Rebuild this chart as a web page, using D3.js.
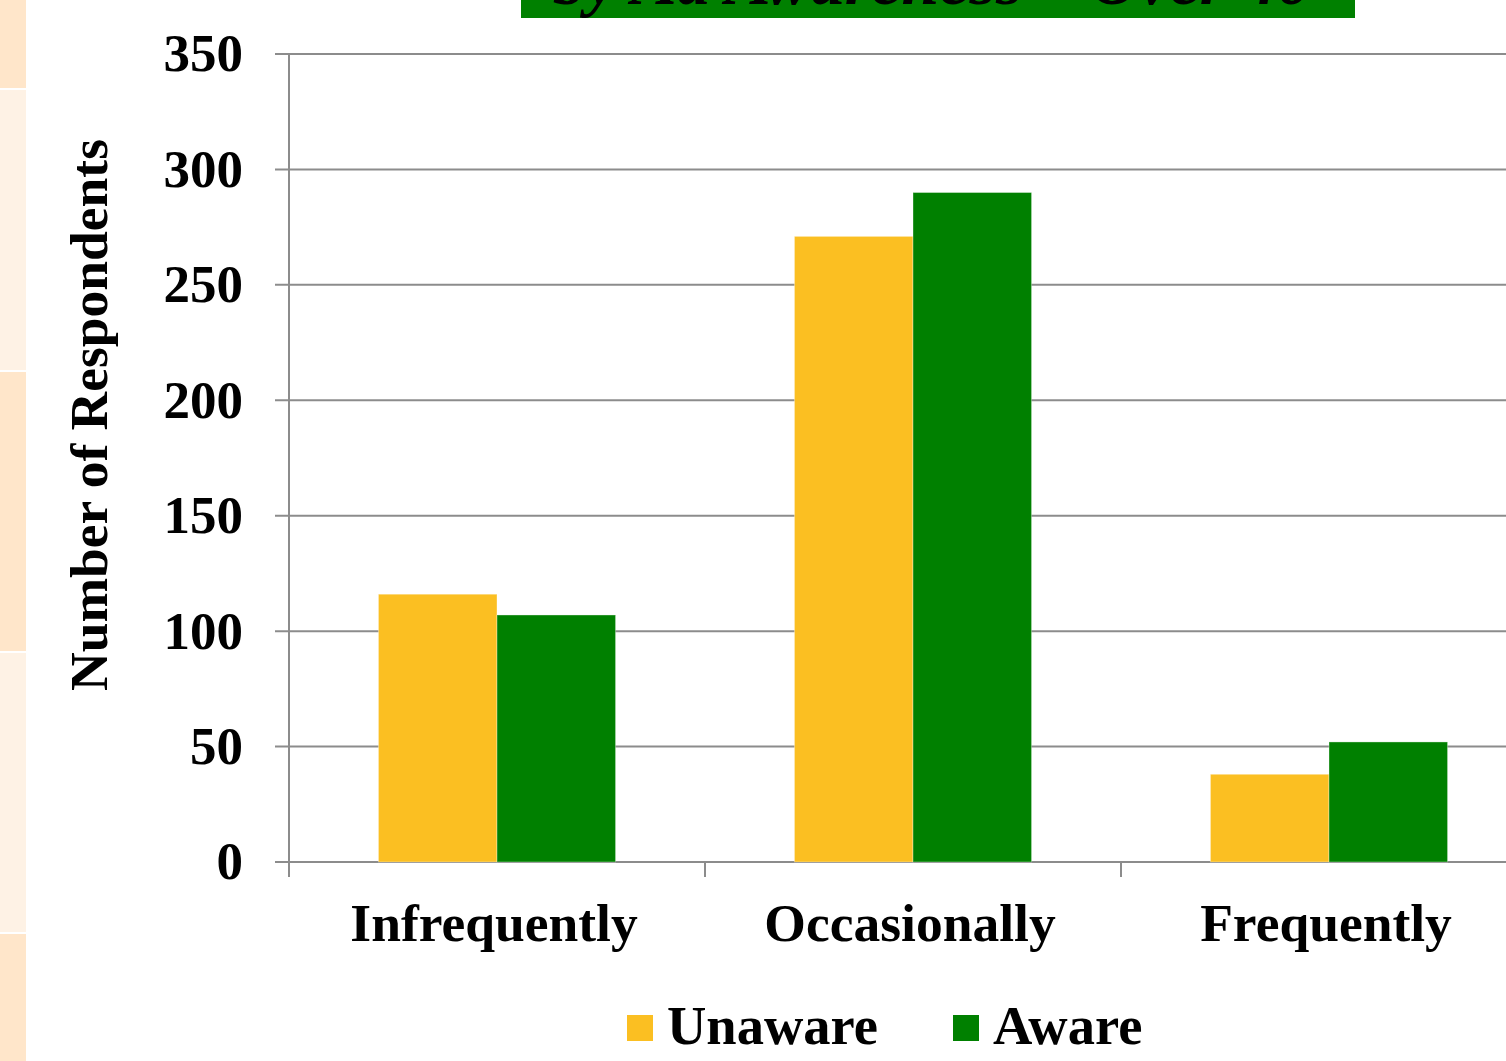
<!DOCTYPE html>
<html>
<head>
<meta charset="utf-8">
<script src="https://cdn.jsdelivr.net/npm/d3@7"></script>
<style>
  html, body { margin: 0; padding: 0; background: #ffffff; overflow: hidden; }
  svg { display: block; }
  text { font-family: "Liberation Serif", "Times New Roman", serif; font-weight: bold; fill: #000; }
</style>
</head>
<body>
<svg id="chart" width="1506" height="1061"></svg>
<script>
// Survey responses: how often respondents over 40 do it, split by ad awareness
const categories = ["Infrequently", "Occasionally", "Frequently"];
const seriesNames = ["Unaware", "Aware"];
const unawareValues = [116, 271, 38];
const awareValues = [107, 290, 52];
const yTicks = [0, 50, 100, 150, 200, 250, 300, 350];
const seriesColors = ["#FBBF22", "#008000"];
const stripBands = [
  { y0: 0, y1: 88, fill: "#FFE6CA" },
  { y0: 90, y1: 370, fill: "#FEF2E5" },
  { y0: 372, y1: 651, fill: "#FFE6CA" },
  { y0: 653, y1: 932, fill: "#FEF2E5" },
  { y0: 934, y1: 1061, fill: "#FFE6CA" }
];

const svg = d3.select("#chart");

// Decorative slide strip on the left edge
svg.append("g").selectAll("rect")
  .data(stripBands)
  .join("rect")
  .attr("x", 0)
  .attr("width", 26)
  .attr("y", d => d.y0)
  .attr("height", d => d.y1 - d.y0)
  .attr("fill", d => d.fill);

// Title banner, running off the top of the slide
const banner = svg.append("g");
banner.append("rect")
  .attr("x", 521).attr("y", -60)
  .attr("width", 834).attr("height", 78)
  .attr("fill", "#008000");
banner.append("text")
  .attr("x", 932).attr("y", 4)
  .attr("text-anchor", "middle")
  .style("font-style", "italic")
  .style("font-size", "68px")
  .text("by Ad Awareness \u2013 Over 40");

// Scales
const plotLeft = 289, plotRight = 1537, plotTop = 54, plotBottom = 862;
const x = d3.scaleBand().domain(categories).range([plotLeft, plotRight]).paddingInner(0).paddingOuter(0);
const inner = d3.scaleBand().domain(seriesNames)
  .range([x.bandwidth() * 0.215, x.bandwidth() * 0.785]).padding(0);
const y = d3.scaleLinear().domain([0, 350]).range([plotBottom, plotTop]);

const gridColor = "#8C8C8C";

// Horizontal gridlines with short outside ticks
svg.append("g").selectAll("line")
  .data(yTicks)
  .join("line")
  .attr("x1", plotLeft - 14)
  .attr("x2", 1506)
  .attr("y1", d => y(d))
  .attr("y2", d => y(d))
  .attr("stroke", gridColor)
  .attr("stroke-width", 2);

// Value axis labels
svg.append("g").selectAll("text")
  .data(yTicks)
  .join("text")
  .attr("x", 243)
  .attr("y", d => y(d))
  .attr("dy", "0.33em")
  .attr("text-anchor", "end")
  .style("font-size", "53px")
  .text(d => d);

// Bars
const rows = categories.map((c, i) => ({ category: c, values: [unawareValues[i], awareValues[i]] }));
const groups = svg.append("g").selectAll("g")
  .data(rows)
  .join("g")
  .attr("transform", d => `translate(${x(d.category)},0)`);
groups.selectAll("rect")
  .data(d => d.values.map((v, j) => ({ name: seriesNames[j], value: v, color: seriesColors[j] })))
  .join("rect")
  .attr("x", d => inner(d.name))
  .attr("width", inner.bandwidth())
  .attr("y", d => y(d.value))
  .attr("height", d => y(0) - y(d.value))
  .attr("fill", d => d.color)
  .attr("stroke", "rgba(255,255,255,0.35)")
  .attr("stroke-width", 1);

// Axis lines and category ticks
svg.append("line")
  .attr("x1", plotLeft).attr("x2", plotLeft)
  .attr("y1", plotTop).attr("y2", plotBottom + 15)
  .attr("stroke", gridColor).attr("stroke-width", 2);
svg.append("g").selectAll("line")
  .data(categories.slice(1))
  .join("line")
  .attr("x1", d => x(d)).attr("x2", d => x(d))
  .attr("y1", plotBottom).attr("y2", plotBottom + 15)
  .attr("stroke", gridColor).attr("stroke-width", 2);

// Category labels
svg.append("g").selectAll("text")
  .data(categories)
  .join("text")
  .attr("x", d => x(d) + x.bandwidth() / 2 - 3)
  .attr("y", 941)
  .attr("text-anchor", "middle")
  .style("font-size", "53.5px")
  .text(d => d);

// Value axis title
svg.append("text")
  .attr("transform", "translate(107,415) rotate(-90)")
  .attr("text-anchor", "middle")
  .style("font-size", "53.5px")
  .text("Number of Respondents");

// Legend
const legendItems = [
  { name: seriesNames[0], color: seriesColors[0], x: 627 },
  { name: seriesNames[1], color: seriesColors[1], x: 953 }
];
const legend = svg.append("g").selectAll("g")
  .data(legendItems)
  .join("g")
  .attr("transform", d => `translate(${d.x},0)`);
legend.append("rect")
  .attr("x", 0).attr("y", 1015)
  .attr("width", 26).attr("height", 26)
  .attr("fill", d => d.color);
legend.append("text")
  .attr("x", 40).attr("y", 1044)
  .style("font-size", "54.5px")
  .text(d => d.name);
</script>
</body>
</html>
